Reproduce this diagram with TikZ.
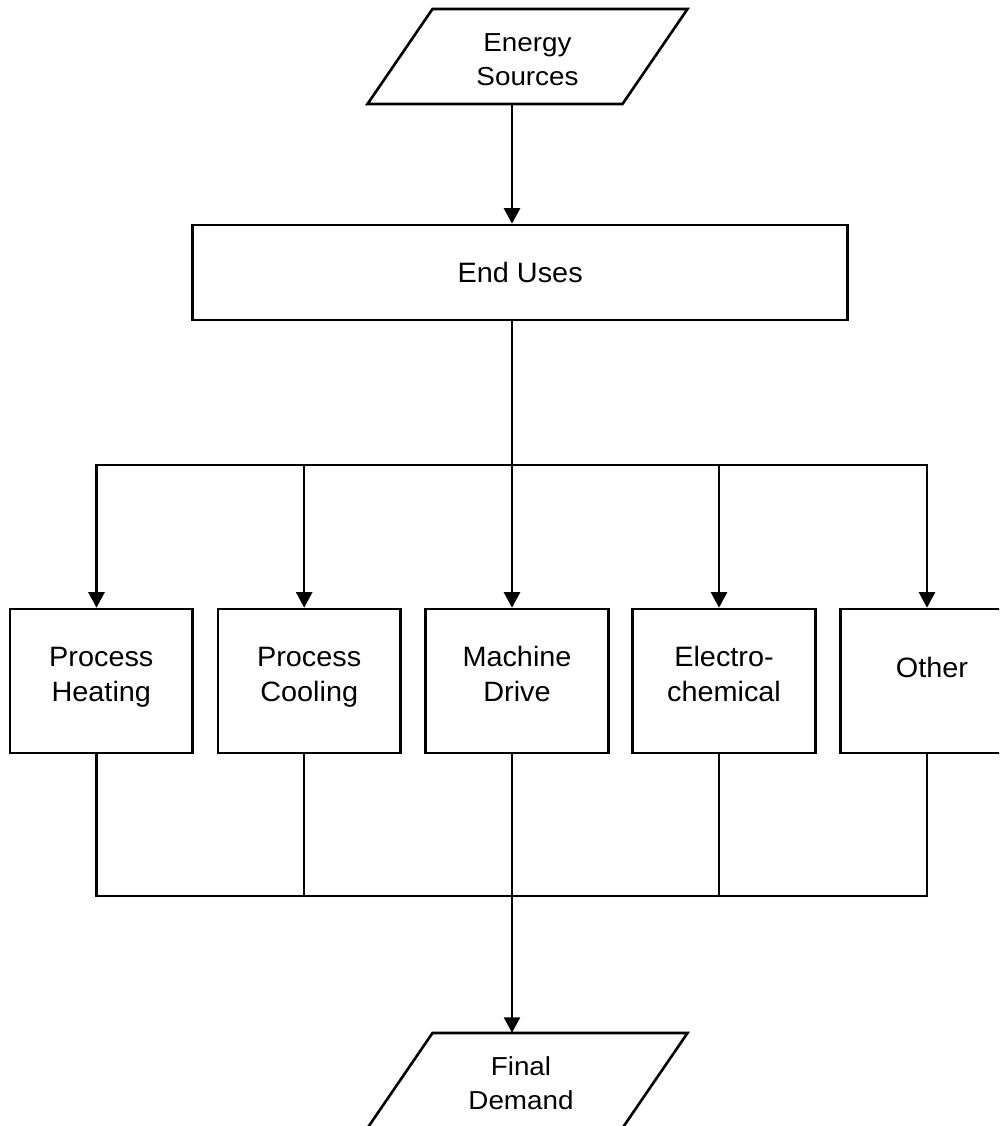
\documentclass[tikz,border=0pt]{standalone}
\usepackage{fontspec}
\setmainfont{Liberation Sans}
\newfontfamily\boxfont{Liberation Sans}[FakeStretch=1.03]
\newfontfamily\parfont{Liberation Sans}[FakeStretch=1.07]
\usetikzlibrary{arrows.meta}
\newcommand{\tst}[1]{\rule{0pt}{#1pt}}
\newcommand{\bst}[1]{\rule[-#1pt]{0pt}{#1pt}}
\begin{document}
\begin{tikzpicture}[x=1pt,y=-1pt,
  conn/.style={line width=2.4pt, line join=miter},
  arr/.style={conn, -{Triangle[length=15.5pt,width=16pt]}},
  dblarr/.style={conn, {Triangle[length=15.5pt,width=16pt]}-{Triangle[length=15.5pt,width=16pt]}},
  procbox/.style={draw, line width=2.6pt, minimum width=182.7pt, minimum height=144pt,
    inner sep=0pt, align=center, font=\boxfont\fontsize{28}{35.7}\selectfont},
  widebox/.style={draw, line width=2.6pt, minimum width=655pt, minimum height=95pt,
    inner sep=0pt, align=center, font=\boxfont\fontsize{28}{35.7}\selectfont},
  ptext/.style={minimum height=95pt, inner sep=0pt, align=center,
    font=\parfont\fontsize{26}{34}\selectfont},
  pshape/.style={draw, line width=2.6pt, line join=miter}
]
\useasboundingbox (0,0) rectangle (999,1126);
\fill[white] (0,0) rectangle (999,1126);
\clip (0,0) rectangle (999,1126);

% input / output
\node[ptext] (src) at (527.5,56.5) {\tst{29}Energy\\Sources\bst{5}};
\draw[pshape, shift={(src.center)}] (-95,-47.5) -- (160,-47.5) -- (95,47.5) -- (-160,47.5) -- cycle;

\coordinate (demc) at (527.5,1080.5);
\node[ptext] (dem) at ([xshift=-6.5pt]demc) {\tst{29}Final\\Demand\bst{5}};
\draw[pshape, shift={(demc)}] (-95,-47.5) -- (160,-47.5) -- (95,47.5) -- (-160,47.5) -- cycle;

% boxes
\node[widebox] (eu) at (520.2,272.5) {\tst{25}End Uses\bst{5.4}};
\node[procbox] (ph) at (101.3,681) {\tst{26}Process\\Heating\bst{20.3}};
\node[procbox] (pc) at (309.2,681) {\tst{26}Process\\Cooling\bst{20.3}};
\node[procbox] (md) at (517,681) {\tst{26}Machine\\Drive\bst{20.3}};
\node[procbox] (ec) at (724,681) {\tst{26}Electro-\\chemical\bst{20.3}};
\node[procbox] (ot) at (932,681) {\tst{26}Other\bst{33.4}};

% junction points
\coordinate (t1) at (96.5,465);
\coordinate (t2) at (304.2,465);
\coordinate (t3) at (512,465);
\coordinate (t4) at (719,465);
\coordinate (t5) at (927,465);
\coordinate (b1) at (96.5,896);
\coordinate (b2) at (304.2,896);
\coordinate (b3) at (512,896);
\coordinate (b4) at (719,896);
\coordinate (b5) at (927,896);

% connectors
\draw[arr] (src.south -| t3) -- (eu.north -| t3);
\draw[conn] (eu.south -| t3) -- (t3);
\draw[dblarr] (t1 |- ph.north) -- (t1) -- (t5) -- (t5 |- ot.north);
\draw[arr] (t2) -- (t2 |- pc.north);
\draw[arr] (t3) -- (t3 |- md.north);
\draw[arr] (t4) -- (t4 |- ec.north);

\draw[conn] (b1 |- ph.south) -- (b1) -- (b5) -- (b5 |- ot.south);
\draw[conn] (b2 |- pc.south) -- (b2);
\draw[conn] (b3 |- md.south) -- (b3);
\draw[conn] (b4 |- ec.south) -- (b4);
\draw[arr] (b3) -- (dem.north -| b3);
\end{tikzpicture}
\end{document}
